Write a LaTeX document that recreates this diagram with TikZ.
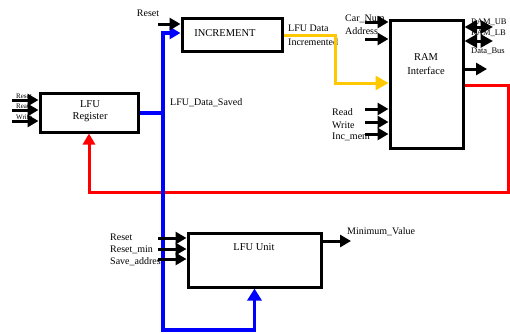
\documentclass[tikz,border=0pt]{standalone}
\usepackage{fontspec}
\setmainfont{Liberation Serif}
\usetikzlibrary{arrows.meta}
\begin{document}
\begin{tikzpicture}[x=1pt,y=-1pt,
  box/.style={draw=black, line width=3pt, inner sep=0pt, fill=white},
  txt/.style={font=\fontsize{10.5}{12}\selectfont, inner sep=0pt, align=center},
  lbl/.style={font=\fontsize{10}{12}\selectfont, inner sep=0pt, anchor=west},
  slbl/.style={font=\fontsize{8.5}{10}\selectfont, inner sep=0pt, anchor=west},
  tlbl/.style={font=\fontsize{7}{8}\selectfont, inner sep=0pt, anchor=west},
  sig/.style={line width=3pt, -{Triangle[length=11pt,width=12pt]}},
  bid/.style={line width=3pt, {Triangle[length=12.5pt,width=13pt]}-{Triangle[length=12.5pt,width=13pt]}},
  blueline/.style={draw={rgb,255:red,0;green,0;blue,255}, line width=3.5pt},
  yelline/.style={draw={rgb,255:red,255;green,200;blue,0}, line width=3pt},
  redline/.style={draw={rgb,255:red,255;green,0;blue,0}, line width=3pt},
]
\useasboundingbox (0,0) rectangle (510,333);

% boxes
\node[box, minimum width=98pt, minimum height=39pt] (reg) at (89,112.5) {};
\node[box, minimum width=100pt, minimum height=33pt] (inc) at (232,34.5) {};
\node[box, minimum width=73pt, minimum height=128pt] (ram) at (426.5,84) {};
\node[box, minimum width=133pt, minimum height=54pt] (lfu) at (254.5,260) {};

% box texts
\node[txt] (tReg) at (90,111) {LFU\\Register};
\node[txt] (tInc) at (225,33) {INCREMENT};
\node[txt, font=\fontsize{10.5}{14}\selectfont] (tRam) at (426,64) {RAM\\Interface};
\node[txt] (tLfu) at (254,247) {LFU Unit};

% labels
\node[lbl, anchor=center] (lIncReset) at (148,13) {Reset};
\node[lbl] (lSaved) at (170,103) {LFU\_Data\_Saved};
\node[lbl, align=left, font=\fontsize{10}{14}\selectfont] (lIncr) at (288,35) {LFU Data\\Incremented};
\node[lbl] (lCar) at (345,19) {Car\_Num};
\node[lbl] (lAddr) at (345,31) {Address};
\node[lbl] (lRead) at (332,112) {Read};
\node[lbl] (lWrite) at (332,125) {Write};
\node[lbl] (lInc) at (332,137) {Inc\_mem};
\node[slbl] (lUB) at (471,22) {RAM\_UB};
\node[slbl] (lLB) at (471,33) {RAM\_LB};
\node[slbl] (lBus) at (471,51) {Data\_Bus};
\node[tlbl] (lRReset) at (16,96) {Reset};
\node[tlbl] (lRRead) at (16,106) {Read};
\node[tlbl] (lRWrite) at (16,117) {Write};
\node[lbl] (lUReset) at (110,237) {Reset};
\node[lbl] (lUResetMin) at (110,250) {Reset\_min};
\node[lbl] (lUSave) at (110,262) {Save\_address};
\node[lbl] (lMin) at (347,232) {Minimum\_Value};

% free-end coordinates
\coordinate (cIncReset) at (158,24);
\coordinate (cR1) at (12,100);
\coordinate (cR2) at (12,110);
\coordinate (cR3) at (12,121);
\coordinate (cCar) at (365,22);
\coordinate (cAddr) at (365,39);
\coordinate (cRd) at (365,109);
\coordinate (cWr) at (365,122);
\coordinate (cIm) at (365,134);
\coordinate (cUB) at (493,27);
\coordinate (cLB) at (493,41);
\coordinate (cBus) at (487,69);
\coordinate (cU1) at (158,238);
\coordinate (cU2) at (158,249);
\coordinate (cU3) at (158,259);
\coordinate (cMin) at (351,241);
\coordinate (jb) at (163,113);
\coordinate (bb) at (163,330);
\coordinate (yc) at (335,83);
\coordinate (rc) at (508,192);

% colored buses
\draw[redline, -{Triangle[length=11pt,width=12pt]}] (ram.east |- {(0,85)}) -| (rc) -| (reg.south);
\draw[yelline, -{Triangle[length=13pt,width=14pt]}] (inc.east |- {(0,35)}) -| (yc) -- (ram.west |- yc);
\draw[blueline] (reg.east |- jb) -- (jb);
\draw[blueline, -{Triangle[length=11pt,width=12pt]}] (jb) |- (inc.west |- {(0,33)});
\draw[blueline, -{Triangle[length=12pt,width=14pt]}] (jb) -- (bb) -| (lfu.south);

% black signals
\draw[sig] (cIncReset) -- (inc.west |- cIncReset);
\draw[sig] (cR1) -- (reg.west |- cR1);
\draw[sig] (cR2) -- (reg.west |- cR2);
\draw[sig] (cR3) -- (reg.west |- cR3);
\draw[sig] (cCar) -- (ram.west |- cCar);
\draw[sig] (cAddr) -- (ram.west |- cAddr);
\draw[sig] (cRd) -- (ram.west |- cRd);
\draw[sig] (cWr) -- (ram.west |- cWr);
\draw[sig] (cIm) -- (ram.west |- cIm);
\draw[bid] (ram.east |- cUB) -- (cUB);
\draw[bid] (ram.east |- cLB) -- (cLB);
\draw[sig] (ram.east |- cBus) -- (cBus);
\draw[sig] (cU1) -- (lfu.west |- cU1);
\draw[sig] (cU2) -- (lfu.west |- cU2);
\draw[sig] (cU3) -- (lfu.west |- cU3);
\draw[sig] (lfu.east |- cMin) -- (cMin);
\end{tikzpicture}
\end{document}
